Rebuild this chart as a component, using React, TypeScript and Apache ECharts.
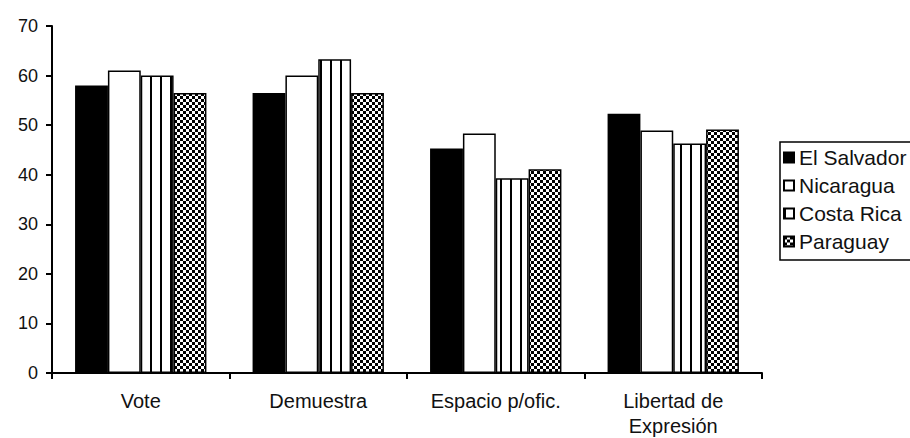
import React, { useEffect, useRef } from "react";
import * as echarts from "echarts";

const categories = ["Vote", "Demuestra", "Espacio p/ofic.", "Libertad de\nExpresión"];
const seriesNames = ["El Salvador", "Nicaragua", "Costa Rica", "Paraguay"];
const elSalvador = [58, 56.5, 45.3, 52.3];
const nicaragua = [61, 60, 48.3, 48.9];
const costaRica = [60, 63.3, 39.3, 46.3];
const paraguay = [56.5, 56.5, 41.1, 49.1];
const yTicks = { min: 0, max: 70, interval: 10 };

function makeChecker(): HTMLCanvasElement {
  const c = document.createElement("canvas");
  c.width = 6;
  c.height = 6;
  const ctx = c.getContext("2d")!;
  ctx.fillStyle = "#ffffff";
  ctx.fillRect(0, 0, 6, 6);
  ctx.fillStyle = "#000000";
  ctx.fillRect(0, 0, 3, 3);
  ctx.fillRect(3, 3, 3, 3);
  return c;
}

function makeVLines(): HTMLCanvasElement {
  const c = document.createElement("canvas");
  c.width = 10;
  c.height = 10;
  const ctx = c.getContext("2d")!;
  ctx.fillStyle = "#ffffff";
  ctx.fillRect(0, 0, 10, 10);
  ctx.fillStyle = "#000000";
  ctx.fillRect(0, 0, 2, 10);
  return c;
}

export default function App() {
  const ref = useRef<HTMLDivElement>(null);
  useEffect(() => {
    if (!ref.current) return;
    const chart = echarts.init(ref.current, null, { renderer: "svg" });
    const checker = makeChecker();
    const vlines = makeVLines();
    const fills: any[] = [
      "#000000",
      "#ffffff",
      { image: vlines, repeat: "repeat", imageWidth: 10, imageHeight: 10 },
      { image: checker, repeat: "repeat", imageWidth: 6, imageHeight: 6 },
    ];
    const data = [elSalvador, nicaragua, costaRica, paraguay];
    const font = "'Liberation Sans', Arial, sans-serif";
    chart.setOption({
      animation: false,
      backgroundColor: "#ffffff",
      grid: { left: 52, right: 148, top: 26, bottom: 61 },
      legend: {
        orient: "vertical",
        left: 780,
        top: 142,
        padding: [5, 24, 8, 3],
        itemGap: 7,
        itemWidth: 10,
        itemHeight: 10,
        icon: "rect",
        borderColor: "#000",
        borderWidth: 1.5,
        textStyle: { fontSize: 21, color: "#111", fontFamily: font },
        data: seriesNames,
      },
      xAxis: {
        type: "category",
        data: categories,
        axisLine: { lineStyle: { color: "#000", width: 2 } },
        axisTick: { show: true, length: 6, lineStyle: { color: "#000", width: 2 } },
        axisLabel: {
          color: "#111",
          fontSize: 20,
          fontFamily: font,
          margin: 15,
          lineHeight: 25,
        },
      },
      yAxis: {
        type: "value",
        min: yTicks.min,
        max: yTicks.max,
        interval: yTicks.interval,
        splitLine: { show: false },
        axisLine: { show: true, lineStyle: { color: "#000", width: 2 } },
        axisTick: { show: true, length: 6, lineStyle: { color: "#000", width: 2 } },
        axisLabel: { color: "#111", fontSize: 18, fontFamily: font, margin: 14 },
      },
      series: seriesNames.map((name, i) => ({
        name,
        type: "bar",
        data: data[i],
        barGap: "0%",
        barCategoryGap: "26%",
        itemStyle: { color: fills[i], borderColor: "#000", borderWidth: 1.5 },
      })),
    });
    return () => chart.dispose();
  }, []);
  return <div ref={ref} style={{ width: 910, height: 438, position: "absolute", left: 0, top: 0 }} />;
}
